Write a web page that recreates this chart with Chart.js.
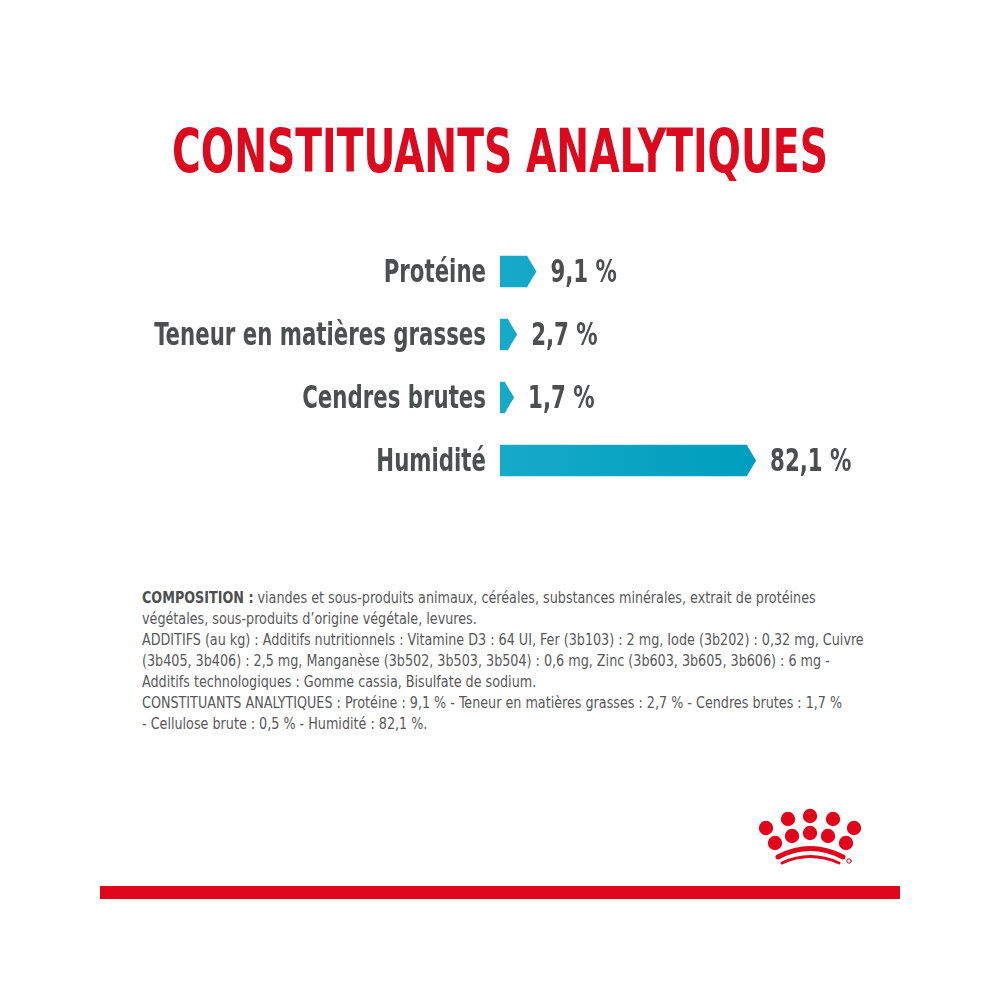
<!DOCTYPE html>
<html lang="fr">
<head>
<meta charset="utf-8">
<title>Constituants analytiques</title>
<script src="https://cdn.jsdelivr.net/npm/chart.js@4.4.1/dist/chart.umd.min.js"></script>
<style>
  html, body { margin: 0; padding: 0; background: #ffffff; }
  body { width: 1000px; height: 1000px; position: relative; overflow: hidden; }
  .narrow { font-family: "Liberation Sans Narrow", "DejaVu Sans Condensed", "Roboto", sans-serif; }
  #title {
    position: absolute; left: 0; top: 121px; width: 1000px;
    text-align: center; line-height: 60px; height: 60px;
  }
  #title span {
    display: inline-block; font-size: 60px; font-weight: bold; color: #dc0a1e;
    transform-origin: center top; white-space: nowrap;
  }
  #chartBox { position: absolute; left: 0; top: 0; width: 1000px; height: 520px; }
  #composition {
    position: absolute; left: 142px; top: 587px;
    font-size: 16px; line-height: 21px; color: #57585a;
    transform-origin: left top; white-space: nowrap;
  }
  #composition b { color: #4d4e50; }
  #logo { position: absolute; left: 740px; top: 795px; }
  #stripe { position: absolute; left: 100px; top: 886px; width: 800px; height: 13px; background: #e0061c; }
</style>
</head>
<body>
<div id="title" class="narrow"><span>CONSTITUANTS ANALYTIQUES</span></div>
<div id="chartBox"><canvas id="chart"></canvas></div>
<div id="composition" class="narrow">
  <div><b>COMPOSITION :</b> viandes et sous-produits animaux, céréales, substances minérales, extrait de protéines</div>
  <div>végétales, sous-produits d’origine végétale, levures.</div>
  <div id="widest">ADDITIFS (au kg) : Additifs nutritionnels : Vitamine D3 : 64 UI, Fer (3b103) : 2 mg, Iode (3b202) : 0,32 mg, Cuivre</div>
  <div>(3b405, 3b406) : 2,5 mg, Manganèse (3b502, 3b503, 3b504) : 0,6 mg, Zinc (3b603, 3b605, 3b606) : 6 mg -</div>
  <div>Additifs technologiques : Gomme cassia, Bisulfate de sodium.</div>
  <div>CONSTITUANTS ANALYTIQUES : Protéine : 9,1 % - Teneur en matières grasses : 2,7 % - Cendres brutes : 1,7 %</div>
  <div>- Cellulose brute : 0,5 % - Humidité : 82,1 %.</div>
</div>
<svg id="logo" width="130" height="80" viewBox="740 795 130 80">
  <g fill="#e0061c">
    <circle cx="766" cy="828" r="7.2"/>
    <circle cx="788" cy="819" r="7.2"/>
    <circle cx="810" cy="816" r="7.2"/>
    <circle cx="833" cy="819" r="7.2"/>
    <circle cx="854" cy="828" r="7.2"/>
    <circle cx="775" cy="843" r="7.2"/>
    <circle cx="792" cy="836" r="7.2"/>
    <circle cx="810" cy="833" r="7.2"/>
    <circle cx="828" cy="836" r="7.2"/>
    <circle cx="846" cy="843" r="7.2"/>
  </g>
  <g fill="none" stroke="#e0061c" stroke-linecap="round">
    <path d="M778 857 Q810 840 843 857" stroke-width="5"/>
    <path d="M782 863 Q810 850 839 863" stroke-width="3"/>
    <circle cx="849" cy="861" r="2.2" stroke-width="1"/>
  </g>
</svg>
<div id="stripe"></div>

<script>
// data
const categories = ['Protéine', 'Teneur en matières grasses', 'Cendres brutes', 'Humidité'];
const values = [9.1, 2.7, 1.7, 82.1];
const valueLabels = ['9,1 %', '2,7 %', '1,7 %', '82,1 %'];

const FONT = '"Liberation Sans Narrow", "DejaVu Sans Condensed", "Roboto", sans-serif';
const TEXT = '#4d4e50';
const TIP = 9;
const SQUEEZE = 0.74;   // condensed look of the original lettering

// squeeze the html text to the widths seen in the picture
function fitText() {
    const t = document.querySelector('#title span');
    t.style.transform = 'scaleX(' + (656 / t.offsetWidth) + ')';
    const c = document.getElementById('composition');
    const w = document.getElementById('widest');
    c.style.transform = 'scaleX(' + (722 / w.scrollWidth) + ')';
}

function squeezedText(ctx, str, x, y, align) {
    ctx.save();
    ctx.translate(x, y);
    ctx.scale(SQUEEZE, 1);
    ctx.textAlign = align;
    ctx.fillText(str, 0, 0);
    ctx.restore();
}

function tealGradient(chart) {
    const area = chart.chartArea;
    const g = chart.ctx.createLinearGradient(area.left, 0, area.left + 250, 0);
    g.addColorStop(0, '#16aac8');
    g.addColorStop(1, '#009ebe');
    return g;
}

// category names, arrow tip and value text for each bar
const arrowBars = {
    id: 'arrowBars',
    afterDatasetsDraw(chart) {
        const ctx = chart.ctx;
        const meta = chart.getDatasetMeta(0);
        const yScale = chart.scales.y;
        ctx.save();
        ctx.font = 'bold 32px ' + FONT;
        ctx.textBaseline = 'middle';
        meta.data.forEach((bar, i) => {
            const { x, y, height } = bar.getProps(['x', 'y', 'height'], true);
            ctx.fillStyle = tealGradient(chart);
            ctx.beginPath();
            ctx.moveTo(x - 0.5, y - height / 2);
            ctx.lineTo(x + TIP, y);
            ctx.lineTo(x - 0.5, y + height / 2);
            ctx.closePath();
            ctx.fill();

            ctx.fillStyle = TEXT;
            squeezedText(ctx, valueLabels[i], x + TIP + 14, y + 2, 'left');
            squeezedText(ctx, categories[i], yScale.right - 14, yScale.getPixelForTick(i) + 2, 'right');
        });
        ctx.restore();
    }
};

function barFill(context) {
    if (!context.chart.chartArea) return '#009dbd';
    return tealGradient(context.chart);
}

function drawChart() {
    new Chart(document.getElementById('chart'), {
        type: 'bar',
        data: {
            labels: categories,
            datasets: [{
                data: values,
                backgroundColor: barFill,
                borderWidth: 0,
                barPercentage: 0.5,
                categoryPercentage: 1
            }]
        },
        options: {
            indexAxis: 'y',
            responsive: true,
            maintainAspectRatio: false,
            animation: false,
            layout: { padding: { top: 240, bottom: 28, left: 0, right: 199 } },
            plugins: {
                legend: { display: false },
                tooltip: { enabled: false }
            },
            scales: {
                x: { display: false, min: 0, max: 100 },
                y: {
                    afterFit(scale) { scale.width = 500; },
                    grid: { display: false, drawTicks: false },
                    border: { display: false },
                    ticks: { display: false }
                }
            }
        },
        plugins: [arrowBars]
    });
}

fitText();
drawChart();
</script>
</body>
</html>
